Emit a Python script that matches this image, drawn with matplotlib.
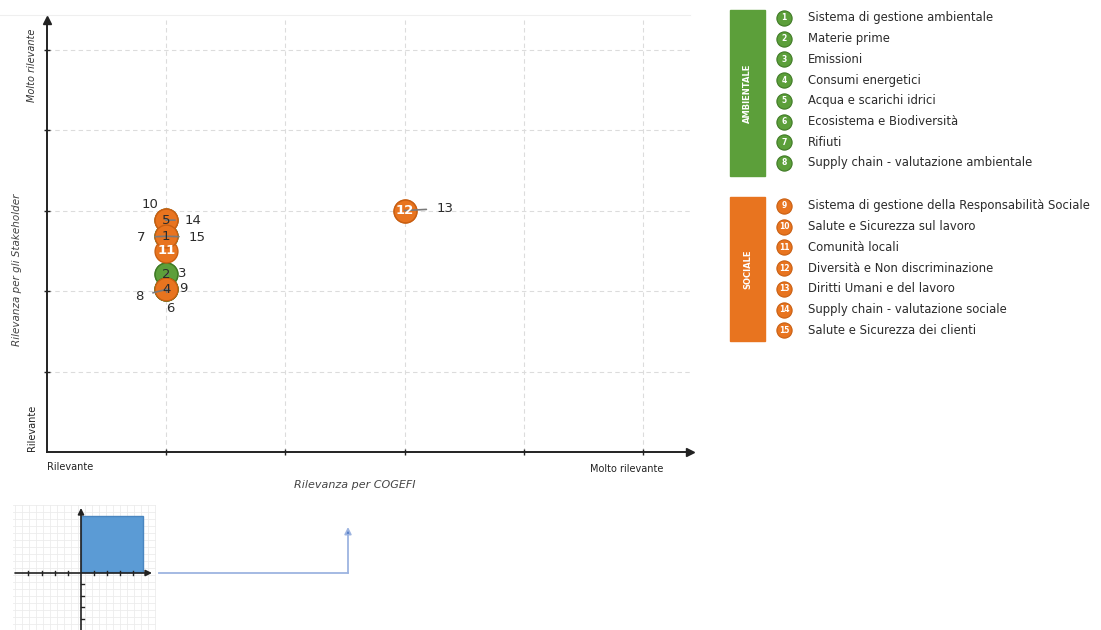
import matplotlib.pyplot as plt
from matplotlib.patches import Rectangle

# DATA

topics = ['Sistema di gestione ambientale', 'Materie prime', 'Emissioni',
          'Consumi energetici', 'Acqua e scarichi idrici',
          'Ecosistema e Biodiversità', 'Rifiuti',
          'Supply chain - valutazione ambientale',
          'Sistema di gestione della Responsabilità Sociale',
          'Salute e Sicurezza sul lavoro', 'Comunità locali',
          'Diversità e Non discriminazione', 'Diritti Umani e del lavoro',
          'Supply chain - valutazione sociale',
          'Salute e Sicurezza dei clienti']
groups = ['AMBIENTALE'] * 8 + ['SOCIALE'] * 7
rel_cogefi = [1, 1, 1, 1, 1, 1, 1, 1, 1, 1, 1, 3, 3, 1, 1]
rel_stakeholder = [2.68, 2.21, 2.21, 2.02, 2.88, 2.02, 2.68, 2.02,
                   2.02, 2.88, 2.50, 3.00, 3.00, 2.88, 2.68]

# numbers written inside the bubble, the rest get a leader line
inside = [1, 2, 4, 5, 11, 12]
inside_white = [11, 12]
# label offsets in pixels (dx, dy down)
label_offsets = {10: (-16, -16), 14: (27, 0), 7: (-25, 1), 15: (31, 1),
                 3: (16, -1), 9: (17, -1), 8: (-27, 7), 6: (4, 19),
                 13: (40, -2)}

axis_min_label = 'Rilevante'
axis_max_label = 'Molto rilevante'
xlabel = 'Rilevanza per COGEFI'
ylabel = 'Rilevanza per gli Stakeholder'

COLORS = {'AMBIENTALE': '#5c9f3a', 'SOCIALE': '#e8741f'}
EDGES = {'AMBIENTALE': '#3f7a25', 'SOCIALE': '#c95f12'}
W, H = 1101, 630
PT = 0.72  # points per pixel at dpi 100

plt.rcParams['font.family'] = ['DejaVu Sans']

fig = plt.figure(figsize=(W / 100, H / 100), dpi=100)

# MAIN MATRIX

x0, y0, x1, y1 = 47, 452, 690, 20
ax = fig.add_axes([x0 / W, 1 - y0 / H, (x1 - x0) / W, (y0 - y1) / H])
ax.set_xlim(0, (x1 - x0) / 119.2)
ax.set_ylim(0, (y0 - y1) / 80.5)
for s in ['top', 'right']:
    ax.spines[s].set_visible(False)
for s in ['left', 'bottom']:
    ax.spines[s].set_color('#222222')
    ax.spines[s].set_linewidth(1.4)
ax.plot(1, 0, '>', color='#222222', ms=6, transform=ax.get_yaxis_transform(),
        clip_on=False)
ax.plot(0, 1, '^', color='#222222', ms=6, transform=ax.get_xaxis_transform(),
        clip_on=False)
ticks = [1, 2, 3, 4, 5]
ax.set_xticks(ticks)
ax.set_yticks(ticks)
ax.set_xticklabels([])
ax.set_yticklabels([])
ax.tick_params(direction='inout', length=5, width=1, color='#222222')
ax.grid(True, color='#dcdcdc', linestyle=(0, (4, 3)), linewidth=0.8)
ax.set_axisbelow(True)

for i in range(len(topics)):
    g = groups[i]
    ax.scatter(rel_cogefi[i], rel_stakeholder[i], s=270, color=COLORS[g],
               edgecolor=EDGES[g], linewidth=1, zorder=3 + i * 0.01)

for i in range(len(topics)):
    n = i + 1
    x, y = rel_cogefi[i], rel_stakeholder[i]
    if n in inside:
        ax.text(x, y, str(n), ha='center', va='center', fontsize=9.5,
                color='white' if n in inside_white else '#2b2b2b',
                fontweight='bold' if n in inside_white else 'normal',
                zorder=6)
    else:
        dx, dy = label_offsets[n]
        ax.annotate(str(n), (x, y), xytext=(dx * PT, -dy * PT),
                    textcoords='offset points', ha='center', va='center',
                    fontsize=9.5, color='#2b2b2b', zorder=5,
                    arrowprops=dict(arrowstyle='-', color='#7a7a7a', lw=1.2,
                                    shrinkA=5, shrinkB=0))

# faint frame line on top
fig.add_artist(plt.Line2D([0, 690 / W], [1 - 15 / H, 1 - 15 / H],
                          color='#efefef', lw=0.8))

fig.text(47 / W, 1 - 467 / H, axis_min_label, fontsize=7, color='#222222',
         ha='left', va='center')
fig.text(663 / W, 1 - 469 / H, axis_max_label, fontsize=7, color='#222222',
         ha='right', va='center')
fig.text(355 / W, 1 - 485 / H, xlabel, fontsize=8, style='italic',
         color='#444444', ha='center', va='center')
fig.text(17 / W, 1 - 270 / H, ylabel, fontsize=7.5, style='italic',
         color='#444444', ha='center', va='center', rotation=90)
fig.text(32 / W, 1 - 65 / H, axis_max_label, fontsize=7, style='italic',
         color='#333333', ha='center', va='center', rotation=90)
fig.text(32 / W, 1 - 428 / H, axis_min_label, fontsize=7,
         color='#222222', ha='center', va='center', rotation=90)

# LEGEND / INSET overlay in pixel coordinates

ov = fig.add_axes([0, 0, 1, 1], zorder=-1)
ov.set_xlim(0, W)
ov.set_ylim(H, 0)
ov.axis('off')

boxes = {'AMBIENTALE': (10, 176), 'SOCIALE': (197, 341)}
first_y = {'AMBIENTALE': 18, 'SOCIALE': 206}
for g, (top, bot) in boxes.items():
    ov.add_patch(Rectangle((730, top), 35, bot - top, color=COLORS[g]))
    ov.text(747.5, (top + bot) / 2, g, rotation=90, ha='center', va='center',
            color='white', fontsize=6, fontweight='bold')
    idx = [i for i in range(len(topics)) if groups[i] == g]
    for k, i in enumerate(idx):
        yy = first_y[g] + k * 20.7
        ov.scatter(784, yy, s=120, color=COLORS[g], edgecolor=EDGES[g],
                   linewidth=0.8)
        ov.text(784, yy, str(i + 1), ha='center', va='center', fontsize=5.5,
                color='white', fontweight='bold')
        ov.text(808, yy, topics[i], ha='left', va='center', fontsize=8.4,
                color='#2b2b2b')

# small quadrant pictogram
for gx in range(15, 156, 7):
    ov.plot([gx, gx], [505, 630], color='#ececec', lw=0.6, zorder=1)
for gy in range(505, 631, 7):
    ov.plot([13, 155], [gy, gy], color='#ececec', lw=0.6, zorder=1)
ov.add_patch(Rectangle((81, 516), 62, 56, facecolor='#5b9bd5',
                       edgecolor='#4a86c0', lw=1, zorder=3))
ov.annotate('', xy=(152, 573), xytext=(15, 573), zorder=4,
            arrowprops=dict(arrowstyle='-|>', color='#222222', lw=1.2,
                            mutation_scale=9, shrinkA=0, shrinkB=0))
ov.annotate('', xy=(81, 508), xytext=(81, 630), zorder=4,
            arrowprops=dict(arrowstyle='-|>', color='#222222', lw=1.2,
                            mutation_scale=9, shrinkA=0, shrinkB=0))
for tx in [28, 42, 55, 68, 94, 107, 120, 133]:
    ov.plot([tx, tx], [571, 575], color='#222222', lw=1, zorder=4)
for ty in [584, 596, 607, 619]:
    ov.plot([81, 84], [ty, ty], color='#222222', lw=1, zorder=4)
ov.plot([159, 348], [573, 573], color='#9db4e0', lw=1.3)
ov.annotate('', xy=(348, 527), xytext=(348, 573),
            arrowprops=dict(arrowstyle='-|>', color='#9db4e0', lw=1.3,
                            mutation_scale=10, shrinkA=0, shrinkB=0,
                            fc='#4472c4', ec='#9db4e0'))

fig.savefig('out.png', dpi=100)
